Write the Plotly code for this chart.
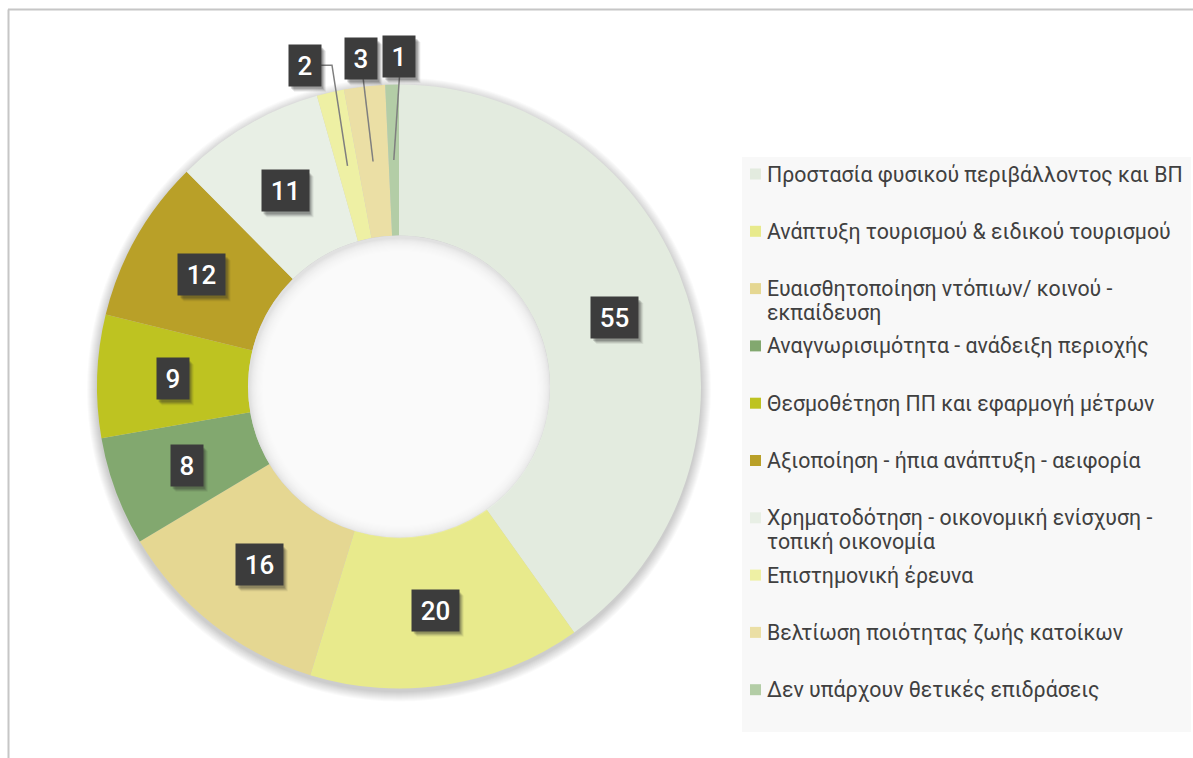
import math
import plotly.graph_objects as go

# ---------------- data ----------------
categories = [
    "Προστασία φυσικού περιβάλλοντος και ΒΠ",
    "Ανάπτυξη τουρισμού & ειδικού τουρισμού",
    "Ευαισθητοποίηση ντόπιων/ κοινού -<br>εκπαίδευση",
    "Αναγνωρισιμότητα - ανάδειξη περιοχής",
    "Θεσμοθέτηση ΠΠ και εφαρμογή μέτρων",
    "Αξιοποίηση - ήπια ανάπτυξη - αειφορία",
    "Χρηματοδότηση - οικονομική ενίσχυση -<br>τοπική οικονομία",
    "Επιστημονική έρευνα",
    "Βελτίωση ποιότητας ζωής κατοίκων",
    "Δεν υπάρχουν θετικές επιδράσεις",
]
values = [55, 20, 16, 8, 9, 12, 11, 2, 3, 1]
colors = ["#e3ebdf", "#e8ea8c", "#e5d792", "#82a86f", "#bec321",
          "#b9a028", "#e8efe5", "#eef0a4", "#ebdfa5", "#b3cda6"]

# ---------------- layout geometry (pixels) ----------------
W, H = 1193, 758
CX, CY, R = 399, 386.5, 302
HOLE = 0.5
RM = R * (1 + HOLE) / 2          # mid-ring radius for labels
R_OUT = 330                      # radius for outside labels
OUT_NUDGE = {7: -19, 9: 8}       # horizontal nudges for outside labels
BOX_H = 41
FONT = "Roboto, 'Open Sans', sans-serif"


def px(x):
    return x / W


def py(y):
    return 1 - y / H


fig = go.Figure()
fig.add_trace(go.Pie(
    labels=categories,
    values=values,
    sort=False,
    direction="clockwise",
    rotation=0,
    hole=HOLE,
    marker=dict(colors=colors, line=dict(width=0)),
    textinfo="none",
    showlegend=False,
    domain=dict(x=[px(CX - R), px(CX + R)], y=[py(CY + R), py(CY - R)]),
))

shapes = []
annotations = []

# frame lines (partially visible border)
shapes.append(dict(type="line", xref="paper", yref="paper",
                   x0=px(8), x1=px(W + 5), y0=py(9.5), y1=py(9.5),
                   line=dict(color="#c6c6c6", width=2)))
shapes.append(dict(type="line", xref="paper", yref="paper",
                   x0=px(8.5), x1=px(8.5), y0=py(9.5), y1=py(H + 5),
                   line=dict(color="#c6c6c6", width=2)))

# outer soft shadow of the ring
for k in range(1, 11):
    rr = R + k
    shapes.append(dict(type="circle", xref="paper", yref="paper", layer="below",
                       x0=px(CX - rr), x1=px(CX + rr),
                       y0=py(CY + 3 + rr), y1=py(CY + 3 - rr),
                       fillcolor="rgba(0,0,0,0.02)", line=dict(width=0)))

# inner shadow in the hole
RI = R * HOLE
shapes.append(dict(type="circle", xref="paper", yref="paper", layer="above",
                   x0=px(CX - RI), x1=px(CX + RI), y0=py(CY + RI), y1=py(CY - RI),
                   fillcolor="#e1e1e1", line=dict(width=0)))
for k in range(1, 24):
    rr = RI - k
    shapes.append(dict(type="circle", xref="paper", yref="paper", layer="above",
                       x0=px(CX + 1 - rr), x1=px(CX + 1 + rr),
                       y0=py(CY + 2 + rr), y1=py(CY + 2 - rr),
                       fillcolor="rgba(255,255,255,0.15)", line=dict(width=0)))

# ---------------- data labels ----------------
total = sum(values)
cum = 0
for i, v in enumerate(values):
    mid = (cum + v / 2) / total * 2 * math.pi
    cum += v
    bw = 32 if len(str(v)) == 1 else 47
    if v >= 5:
        bx = CX + RM * math.sin(mid)
        by = CY - RM * math.cos(mid)
    else:
        nudge = OUT_NUDGE.get(i, 0)
        bx = CX + R_OUT * math.sin(mid) + nudge
        by = CY - R_OUT * math.cos(mid)
        sx = CX + RM * math.sin(mid)
        sy = CY - RM * math.cos(mid)
        if nudge < 0:
            pts = [(sx, sy), (bx + bw / 2 + 11, by), (bx + bw / 2, by)]
        else:
            pts = [(sx, sy), (bx + (2 if nudge == 0 else 0), by + BOX_H / 2)]
        path = "M " + " L ".join(f"{px(a)},{py(b)}" for a, b in pts)
        shapes.append(dict(type="path", xref="paper", yref="paper", layer="above",
                           path=path, line=dict(color="#7f7f7f", width=1.5)))
    # drop shadow of the label box
    for (dx, dy, a) in [(5, 6, 0.08), (4, 5, 0.12), (3, 4, 0.16), (2, 3, 0.2)]:
        shapes.append(dict(type="rect", xref="paper", yref="paper", layer="above",
                           x0=px(bx - bw / 2 + dx), x1=px(bx + bw / 2 + dx),
                           y0=py(by + BOX_H / 2 + dy), y1=py(by - BOX_H / 2 + dy),
                           fillcolor=f"rgba(40,40,40,{a})", line=dict(width=0)))
    annotations.append(dict(
        x=px(bx), y=py(by), xref="paper", yref="paper",
        xanchor="center", yanchor="middle",
        text=str(v), showarrow=False, width=bw, height=BOX_H,
        bgcolor="#3c3c3c", borderpad=0,
        font=dict(family=FONT, size=26, color="white", weight=500),
    ))

# ---------------- legend (manual) ----------------
LEG_X0, LEG_X1, LEG_Y0, LEG_Y1 = 742, 1191, 157, 732
shapes.append(dict(type="rect", xref="paper", yref="paper", layer="below",
                   x0=px(LEG_X0), x1=px(LEG_X1), y0=py(LEG_Y1), y1=py(LEG_Y0),
                   fillcolor="#f8f8f8", line=dict(width=0)))
ITEM_Y0, ITEM_DY, LINE_DY = 174, 57.3, 24
for i, (lab, col) in enumerate(zip(categories, colors)):
    yi = ITEM_Y0 + i * ITEM_DY
    shapes.append(dict(type="rect", xref="paper", yref="paper", layer="above",
                       x0=px(750), x1=px(761), y0=py(yi + 5.5), y1=py(yi - 5.5),
                       fillcolor=col, line=dict(width=0)))
    for j, line in enumerate(lab.split("<br>")):
        annotations.append(dict(
            x=px(765), y=py(yi + j * LINE_DY), xref="paper", yref="paper",
            xanchor="left", yanchor="middle", text=line, showarrow=False,
            font=dict(family=FONT, size=21.3, color="#404040"),
        ))

fig.update_layout(
    width=W, height=H,
    margin=dict(l=0, r=0, t=0, b=0),
    paper_bgcolor="white",
    plot_bgcolor="white",
    showlegend=False,
    shapes=shapes,
    annotations=annotations,
)

fig.write_html(
    "out.html",
    config={"displayModeBar": False},
    post_script="document.body.style.margin='0';document.body.style.overflow='hidden';",
)
